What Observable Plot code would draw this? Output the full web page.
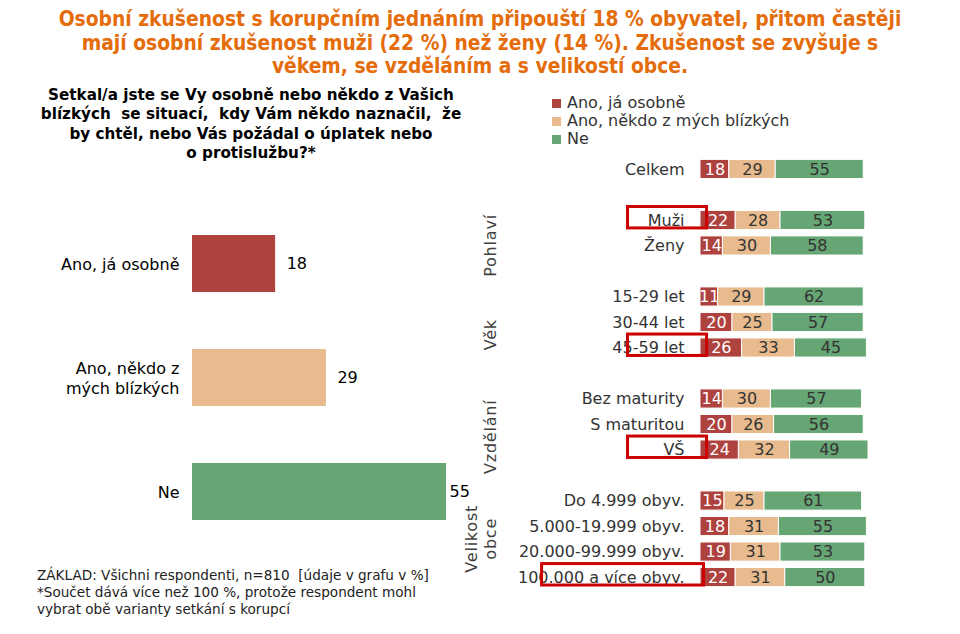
<!DOCTYPE html>
<html>
<head>
<meta charset="utf-8">
<script src="https://cdn.jsdelivr.net/npm/d3@7"></script>
<script src="https://cdn.jsdelivr.net/npm/@observablehq/plot@0.6"></script>
<style>
  html, body { margin: 0; padding: 0; background: #fff; }
  #root { position: relative; width: 960px; height: 634px; overflow: hidden; font-family: "DejaVu Sans", Verdana, sans-serif; }
  .abs { position: absolute; }
  #title { left: 0; top: 8px; width: 960px; text-align: center; color: #E46C0A; font-family: "DejaVu Sans Condensed", "DejaVu Sans", sans-serif; font-stretch: condensed; font-weight: bold; font-size: 20.8px; line-height: 23.5px; white-space: pre; }
  #subtitle { left: 11px; top: 86px; width: 480px; text-align: center; color: #000; font-family: "DejaVu Sans", sans-serif; font-weight: bold; font-size: 15.2px; line-height: 19.3px; white-space: pre; }
  #footer { left: 37px; top: 567px; color: #222; font-size: 13.6px; line-height: 17px; white-space: pre; }
  #legend { left: 552px; top: 94px; color: #333; font-size: 16px; line-height: 18px; }
  #legend .item { display: flex; align-items: center; height: 18px; }
  #legend .sw { width: 9px; height: 9px; margin-right: 6px; }
  svg.plot { position: absolute; left: 0; top: 0; background: transparent; }
</style>
</head>
<body>
<div id="root"></div>
<script>
// ---- data ----
const titleText = "Osobní zkušenost s korupčním jednáním připouští 18 % obyvatel, přitom častěji\nmají osobní zkušenost muži (22 %) než ženy (14 %). Zkušenost se zvyšuje s\nvěkem, se vzděláním a s velikostí obce.";
const subtitleText = "Setkal/a jste se Vy osobně nebo někdo z Vašich\nblízkých  se situací,  kdy Vám někdo naznačil,  že\nby chtěl, nebo Vás požádal o úplatek nebo\no protislužbu?*";
const footerText = "ZÁKLAD: Všichni respondenti, n=810  [údaje v grafu v %]\n*Součet dává více než 100 %, protože respondent mohl\nvybrat obě varianty setkání s korupcí";

const series = ["Ano, já osobně", "Ano, někdo z mých blízkých", "Ne"];
const seriesColors = ["#AE423F", "#E7BB8E", "#66A574"];

const leftCats = ["Ano, já osobně", "Ano, někdo z\nmých blízkých", "Ne"];
const leftVals = [18, 29, 55];

const rowLabels = ["Celkem", "_1", "Muži", "Ženy", "_2", "15-29 let", "30-44 let", "45-59 let", "_3",
  "Bez maturity", "S maturitou", "VŠ", "_4", "Do 4.999 obyv.", "5.000-19.999 obyv.", "20.000-99.999 obyv.", "100.000 a více obyv."];
const osobne = [18, null, 22, 14, null, 11, 20, 26, null, 14, 20, 24, null, 15, 18, 19, 22];
const blizci = [29, null, 28, 30, null, 29, 25, 33, null, 30, 26, 32, null, 25, 31, 31, 31];
const ne     = [55, null, 53, 58, null, 62, 57, 45, null, 57, 56, 49, null, 61, 55, 53, 50];

const groupNames = ["Pohlaví", "Věk", "Vzdělání", "Velikost\nobce"];
const groupRows = [["Muži", "Ženy", "_2"], ["15-29 let", "45-59 let", "_3"], ["Bez maturity", "VŠ", "_4"], ["Do 4.999 obyv.", "100.000 a více obyv."]];

const highlightShort = ["Muži", "45-59 let", "VŠ"];
const highlightLong = ["100.000 a více obyv."];

// ---- layout ----
const root = document.getElementById("root");
function addDiv(id, text) { const d = document.createElement("div"); d.id = id; d.className = "abs"; d.textContent = text; root.appendChild(d); return d; }
addDiv("title", titleText);
addDiv("subtitle", subtitleText);
addDiv("footer", footerText);

const legend = addDiv("legend", "");
series.forEach((s, i) => {
  const it = document.createElement("div"); it.className = "item";
  const sw = document.createElement("span"); sw.className = "sw"; sw.style.background = seriesColors[i];
  const t = document.createElement("span"); t.textContent = s;
  it.appendChild(sw); it.appendChild(t); legend.appendChild(it);
});

const font = "DejaVu Sans, Verdana, sans-serif";

// ---- left chart ----
const leftData = leftCats.map((c, i) => ({cat: c, value: leftVals[i]}));
const leftMax = d3.max(leftVals);
const left = Plot.plot({
  width: 960, height: 634,
  marginLeft: 192, marginRight: 514, marginTop: 178, marginBottom: 57,
  style: {fontFamily: font, fontSize: "16px", background: "transparent", overflow: "visible"},
  x: {domain: [0, 55], axis: null},
  y: {domain: leftCats, padding: 0.5, round: false, label: null, axis: null},
  color: {domain: leftCats, range: seriesColors},
  marks: [
    Plot.barX(leftData, {y: "cat", x: "value", fill: "cat"}),
    Plot.text(leftData.filter(d => d.value < leftMax), {y: "cat", x: "value", text: "value", dx: 11, textAnchor: "start", fill: "#000", fontSize: 16}),
    Plot.text(leftData.filter(d => d.value === leftMax), {y: "cat", x: "value", text: "value", dx: 3, textAnchor: "start", fill: "#000", fontSize: 16}),
    Plot.axisY({tickSize: 0, tickPadding: 13, fontSize: 16, fill: "#000", lineHeight: 1.25, label: null})
  ]
});
left.classList.add("plot");
root.appendChild(left);

// ---- right chart ----
const stackData = [];
rowLabels.forEach((r, i) => {
  if (osobne[i] == null) return;
  stackData.push({row: r, series: series[0], value: osobne[i]});
  stackData.push({row: r, series: series[1], value: blizci[i]});
  stackData.push({row: r, series: series[2], value: ne[i]});
});

const right = Plot.plot({
  width: 960, height: 634,
  marginLeft: 700, marginRight: 100, marginTop: 153, marginBottom: 41,
  style: {fontFamily: font, fontSize: "16px", background: "transparent", overflow: "visible"},
  x: {domain: [0, 100], axis: null},
  y: {domain: rowLabels, padding: 0.25, round: false, label: null, axis: null},
  color: {domain: series, range: seriesColors},
  marks: [
    Plot.barX(stackData, {y: "row", x: "value", fill: "series", stroke: "white", strokeWidth: 1}),
    Plot.text(stackData.filter(d => d.series === series[0]), Plot.stackX({y: "row", x: "value", z: null, text: "value", fill: "white", fontSize: 16})),
    Plot.text(stackData, Plot.stackX({y: "row", x: "value", text: d => d.series === series[0] ? "" : d.value, fill: "#333", fontSize: 16})),
    Plot.axisY({tickSize: 0, tickPadding: 16, fontSize: 16, fill: "#333", label: null, tickFormat: d => d.startsWith("_") ? "" : d}),
    Plot.barX(highlightShort, {y: d => d, x1: -45.3, x2: 4.1, fill: "none", stroke: "#CC0000", strokeWidth: 3, insetTop: -3.9, insetBottom: 1.6}),
    Plot.barX(highlightLong, {y: d => d, x1: -99, x2: 2.2, fill: "none", stroke: "#CC0000", strokeWidth: 3, insetTop: -3.9, insetBottom: 1.6})
  ]
});
right.classList.add("plot");
root.appendChild(right);

// group labels positioned with the plot's y scale
const ys = right.scale("y");
const half = ys.bandwidth / 2;
const svgSel = d3.select(right);
groupNames.forEach((g, i) => {
  const rows = groupRows[i];
  const cy = (ys.apply(rows[0]) + ys.apply(rows[rows.length - 1])) / 2 + half;
  const lines = g.split("\n");
  const lh = 19;
  const cx = 496 - (lines.length - 1) * lh;
  const t = svgSel.append("text")
    .attr("transform", `translate(${cx},${cy}) rotate(-90)`)
    .attr("text-anchor", "middle")
    .attr("font-family", font)
    .attr("font-size", 16)
    .attr("letter-spacing", 0.8)
    .attr("fill", "#404040");
  lines.forEach((l, j) => {
    t.append("tspan").attr("x", 0).attr("y", j * lh).text(l);
  });
});
</script>
</body>
</html>
